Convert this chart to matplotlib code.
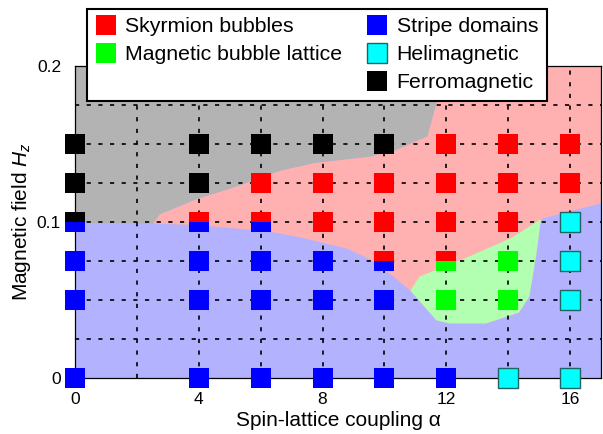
import matplotlib
matplotlib.use("Agg")
import matplotlib.pyplot as plt
from matplotlib.patches import Polygon
from matplotlib.lines import Line2D
import numpy as np

plt.rcParams['font.family'] = ['Liberation Sans', 'DejaVu Sans']
plt.rcParams['mathtext.fontset'] = 'custom'
plt.rcParams['mathtext.rm'] = 'Liberation Sans'
plt.rcParams['mathtext.it'] = 'Liberation Sans:italic'

# ---- data ----
alpha = [0, 4, 6, 8, 10, 12, 14, 16]
field = [0, 0.05, 0.075, 0.1, 0.125, 0.15]

# phase at each (alpha, field): single code or (top, bottom)
# codes: S=skyrmion, M=magnetic bubble lattice, D=stripe domains, H=helimagnetic, F=ferromagnetic
phases = {
    0:  ['D', 'D', 'D', ('F', 'D'), 'F', 'F'],
    4:  ['D', 'D', 'D', ('S', 'D'), 'F', 'F'],
    6:  ['D', 'D', 'D', ('S', 'D'), 'S', 'F'],
    8:  ['D', 'D', 'D', 'S', 'S', 'F'],
    10: ['D', 'D', ('S', 'D'), 'S', 'S', 'F'],
    12: ['D', 'M', ('S', 'M'), 'S', 'S', 'S'],
    14: ['H', 'M', 'M', 'S', 'S', 'S'],
    16: ['H', 'H', 'H', 'H', 'S', 'S'],
}

labels = {'S': 'Skyrmion bubbles', 'M': 'Magnetic bubble lattice',
          'D': 'Stripe domains', 'H': 'Helimagnetic', 'F': 'Ferromagnetic'}
colors = {'S': '#ff0000', 'M': '#00ff00', 'D': '#0000ff', 'H': '#00ffff', 'F': '#000000'}
edges = {'S': 'none', 'M': 'none', 'D': 'none', 'H': '#1e6464', 'F': 'none'}

# region boundaries
gray_boundary_x = [12.0, 11.39, 10.35, 9.55, 7.77, 6.65, 5.10, 3.97, 2.74, 2.52]
gray_boundary_y = [0.2, 0.155, 0.146, 0.142, 0.138, 0.133, 0.122, 0.115, 0.105, 0.099]

lower_boundary_x = [2.52, 3.97, 6.23, 7.32, 8.77, 9.55, 10.23, 10.84, 11.68, 12.10, 13.29, 14.35, 14.68, 14.90, 15.06, 17.0]
lower_boundary_y = [0.099, 0.098, 0.094, 0.090, 0.083, 0.076, 0.066, 0.056, 0.037, 0.035, 0.035, 0.042, 0.052, 0.078, 0.102, 0.112]

green_top_x = [10.84, 11.13, 12.52, 14.13, 15.06]
green_top_y = [0.056, 0.065, 0.076, 0.090, 0.102]
green_bottom_x = [11.68, 12.10, 13.29, 14.35, 14.68, 14.90]
green_bottom_y = [0.037, 0.035, 0.035, 0.042, 0.052, 0.078]

xlim = (0, 17)
ylim = (0, 0.2)

# ---- figure ----
fig = plt.figure(figsize=(6.03, 4.34), dpi=100)
ax = fig.add_axes([75/603, 56/434, 526/603, 312/434])
ax.set_xlim(*xlim)
ax.set_ylim(*ylim)

# background regions
ax.add_patch(Polygon([(xlim[0], ylim[0]), (xlim[1], ylim[0]), (xlim[1], ylim[1]), (xlim[0], ylim[1])],
                     closed=True, facecolor='#b2b2ff', edgecolor='none', zorder=0))
pink = list(zip(lower_boundary_x, lower_boundary_y)) + [(xlim[1], ylim[1])] + \
    list(zip(gray_boundary_x, gray_boundary_y))
ax.add_patch(Polygon(pink, closed=True, facecolor='#ffb0b0', edgecolor='none', zorder=0.1))
gray = [(0, 0.0995), (0, ylim[1])] + list(zip(gray_boundary_x, gray_boundary_y))
ax.add_patch(Polygon(gray, closed=True, facecolor='#b3b3b3', edgecolor='none', zorder=0.2))
green = list(zip(green_top_x, green_top_y)) + list(zip(green_bottom_x, green_bottom_y))[::-1]
ax.add_patch(Polygon(green, closed=True, facecolor='#b2ffb2', edgecolor='none', zorder=0.3))

# grid
for gx in np.arange(2, 17, 2):
    ax.axvline(gx, color='black', lw=1.2, ls=(0, (2.5, 4.5)), zorder=1)
for gy in np.arange(0.025, 0.2, 0.025):
    ax.axhline(gy, color='black', lw=1.2, ls=(0, (2.5, 4.5)), zorder=1)

ms = 15
for a in alpha:
    for f, ph in zip(field, phases[a]):
        if isinstance(ph, tuple):
            top, bot = ph
            ax.plot([a], [f], marker='s', ms=ms, ls='none', fillstyle='top',
                    markerfacecolor=colors[top], markerfacecoloralt=colors[bot],
                    markeredgewidth=0, clip_on=False, zorder=5)
        else:
            ax.plot([a], [f], marker='s', ms=ms, ls='none', markerfacecolor=colors[ph],
                    markeredgecolor=edges[ph], markeredgewidth=1.0 if edges[ph] != 'none' else 0,
                    clip_on=False, zorder=5)

# ticks
xt = np.arange(0, 17, 2)
ax.set_xticks(xt)
ax.set_xticklabels([str(int(v)) if v % 4 == 0 else '' for v in xt])
yt = [0, 0.025, 0.05, 0.075, 0.1, 0.125, 0.15, 0.175, 0.2]
ax.set_yticks(yt)
ax.set_yticklabels(['0' if v == 0 else ('0.1' if v == 0.1 else ('0.2' if v == 0.2 else '')) for v in yt])
ax.tick_params(direction='in', length=0, labelsize=12.5, pad=10, top=False, right=False)
for s in ax.spines.values():
    s.set_linewidth(0.9)
    s.set_zorder(4)

ax.set_xlabel('Spin-lattice coupling α', fontsize=15, labelpad=3)
ax.set_ylabel('Magnetic field $H_z$', fontsize=15, labelpad=3)

# legend
order = ['S', 'M', None, 'D', 'H', 'F']
handles, labs = [], []
for k in order:
    if k is None:
        handles.append(Line2D([], [], ls='none', marker='none'))
        labs.append(' ')
    else:
        handles.append(Line2D([], [], ls='none', marker='s', ms=15, markerfacecolor=colors[k],
                              markeredgecolor=edges[k] if edges[k] != 'none' else colors[k],
                              markeredgewidth=1.0 if edges[k] != 'none' else 0))
        labs.append(labels[k])
leg = fig.legend(handles, labs, ncol=2, loc='upper left', bbox_to_anchor=(87/603, 1 - 9/434),
                 fontsize=15.3, frameon=True, fancybox=False, edgecolor='black', framealpha=1,
                 handlelength=1.0, handletextpad=0.4, columnspacing=1.15, labelspacing=0.42,
                 borderpad=0.4, borderaxespad=0)
leg.get_frame().set_linewidth(1.5)
leg.set_zorder(10)

fig.savefig('out.png', dpi=100)
